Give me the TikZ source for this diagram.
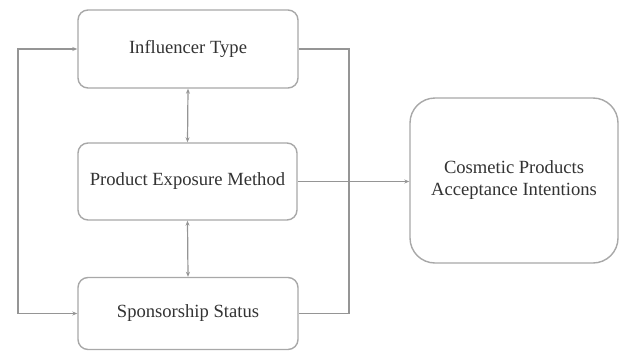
\documentclass[tikz,border=0pt]{standalone}
\usepackage{fontspec}
\setmainfont{Liberation Serif}
\newfontfamily\timesfont{Liberation Serif}
\usetikzlibrary{arrows.meta}
\definecolor{linegray}{HTML}{959595}
\definecolor{boxgray}{HTML}{A8A8A8}
\definecolor{txtgray}{HTML}{333333}
\tikzset{
  box/.style={draw=boxgray, line width=1.4pt, rounded corners=10pt, fill=white,
    text=txtgray, font=\timesfont\fontsize{18.6}{22}\selectfont, align=center, inner sep=0pt},
  conn/.style={draw=linegray, line width=1.2pt},
  tip/.style={-{Stealth[length=5pt,width=4pt]}},
  tips/.style={{Stealth[length=5pt,width=4pt]}-{Stealth[length=5pt,width=4pt]}}
}
\begin{document}
\begin{tikzpicture}[x=1pt,y=-1pt]
\useasboundingbox (0,0) rectangle (620,351);
\node[box, minimum width=220pt, minimum height=78pt] (inf) at (188,49) {Influencer Type};
\node[box, minimum width=219pt, minimum height=77pt] (pem) at (187.5,181.5) {Product Exposure Method};
\node[box, minimum width=220pt, minimum height=72pt] (spon) at (188,313.5) {Sponsorship Status};
\node[box, rounded corners=25pt, minimum width=208pt, minimum height=165pt] (cos) at (514,180.5) {Cosmetic Products\\Acceptance Intentions};
\coordinate (L1) at (18,49);
\coordinate (L2) at (18,313.5);
\coordinate (R1) at (349,49);
\coordinate (R2) at (349,313.5);
\draw[conn, tips] (inf.west) -- (L1) -- (L2) -- (spon.west);
\draw[conn] (inf.east) -- (R1) -- (R2) -- (spon.east);
\draw[conn, tip] (pem.east) -- (pem.east -| cos.west);
\draw[conn, tips] (inf.south) -- (pem.north);
\draw[conn, tips] (pem.south) -- (spon.north);
\end{tikzpicture}
\end{document}
